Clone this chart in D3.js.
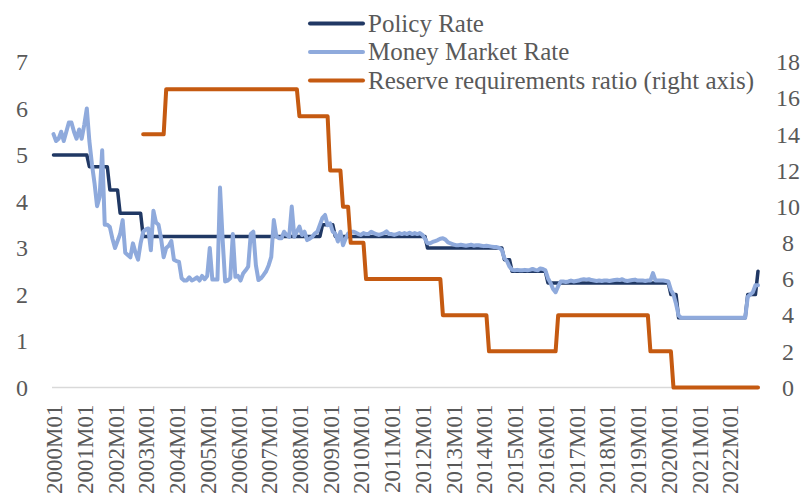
<!DOCTYPE html>
<html>
<head>
<meta charset="utf-8">
<script src="https://cdn.jsdelivr.net/npm/d3@7"></script>
<style>
  body { margin: 0; background: #fff; }
  svg { display: block; }
</style>
</head>
<body>
<svg id="chart" width="810" height="499"></svg>
<script>
// monthly categories 2000M01 .. 2022M12
const years = d3.range(2000, 2023);
const months = years.flatMap(y => d3.range(1, 13).map(m => `${y}M${String(m).padStart(2, "0")}`));

// policy rate, changes only (value holds until next change)
const policySteps = [
  ["2000M01", 5], ["2001M03", 4.75], ["2001M11", 4.25], ["2002M03", 3.75],
  ["2002M12", 3.25], ["2008M10", 3.5], ["2009M03", 3.25], ["2012M03", 3.0],
  ["2014M09", 2.75], ["2014M12", 2.5], ["2016M02", 2.25], ["2020M02", 2.0],
  ["2020M05", 1.5], ["2022M08", 2.0], ["2022M12", 2.5]
];

// reserve requirements ratio (right axis), changes only
const reserveSteps = [
  ["2002M12", 14], ["2003M09", 16.5], ["2008M01", 15], ["2009M01", 12],
  ["2009M06", 10], ["2009M09", 8], ["2010M03", 6], ["2012M09", 4],
  ["2014M03", 2], ["2016M06", 4], ["2019M06", 2], ["2020M03", 0]
];

// money market rate, one row per year
const moneyMarket = [
  5.45, 5.3, 5.35, 5.5, 5.3, 5.5, 5.7, 5.7, 5.5, 5.35, 5.55, 5.35,
  5.65, 6.0, 5.3, 4.8, 4.4, 3.9, 4.1, 5.1, 3.5, 3.5, 3.45, 3.2,
  3.0, 3.15, 3.3, 3.6, 2.9, 2.85, 2.8, 3.1, 2.9, 2.75, 3.1, 3.35,
  3.4, 3.42, 2.95, 3.8, 3.55, 3.5, 3.2, 2.8, 3.0, 3.05, 3.15, 2.75,
  2.72, 2.7, 2.35, 2.3, 2.3, 2.37, 2.3, 2.33, 2.37, 2.3, 2.4, 2.33,
  2.4, 3.0, 2.32, 2.32, 2.32, 4.3, 3.2, 2.28, 2.3, 2.35, 3.3, 2.38,
  2.4, 2.3, 2.45, 2.52, 2.6, 3.3, 3.35, 2.63, 2.31, 2.35, 2.42, 2.5,
  2.63, 2.81, 3.6, 3.25, 3.21, 3.21, 3.35, 3.28, 3.24, 3.89, 3.24, 3.35,
  3.46, 3.28, 3.35, 3.17, 3.2, 3.24, 3.31, 3.35, 3.5, 3.65, 3.71, 3.49,
  3.53, 3.35, 3.31, 3.14, 3.35, 3.06, 3.2, 3.31, 3.35, 3.35, 3.33, 3.3,
  3.28, 3.32, 3.3, 3.3, 3.35, 3.32, 3.3, 3.28, 3.3, 3.32, 3.36, 3.3,
  3.3, 3.28, 3.3, 3.32, 3.3, 3.32, 3.3, 3.33, 3.3, 3.32, 3.3, 3.32,
  3.28, 3.2, 3.1, 3.1, 3.13, 3.15, 3.17, 3.2, 3.21, 3.18, 3.12, 3.1,
  3.08, 3.06, 3.06, 3.07, 3.06, 3.05, 3.06, 3.07, 3.05, 3.06, 3.06, 3.05,
  3.04, 3.05, 3.04, 3.03, 3.02, 3.02, 3.0, 2.96, 2.78, 2.72, 2.6, 2.53,
  2.52, 2.53, 2.52, 2.52, 2.53, 2.52, 2.53, 2.55, 2.53, 2.52, 2.56, 2.55,
  2.52, 2.35, 2.25, 2.12, 2.05, 2.18, 2.28, 2.28, 2.27, 2.28, 2.3, 2.28,
  2.29, 2.3, 2.32, 2.33, 2.32, 2.33, 2.31, 2.3, 2.29, 2.3, 2.29, 2.3,
  2.3, 2.29, 2.3, 2.31, 2.32, 2.31, 2.33, 2.3, 2.29, 2.3, 2.31, 2.32,
  2.3, 2.3, 2.3, 2.29, 2.3, 2.3, 2.46, 2.3, 2.3, 2.3, 2.3, 2.29,
  2.28, 2.1, 2.0, 1.8, 1.55, 1.5, 1.5, 1.5, 1.5, 1.5, 1.5, 1.5,
  1.5, 1.5, 1.5, 1.5, 1.5, 1.5, 1.5, 1.5, 1.5, 1.5, 1.5, 1.5,
  1.5, 1.5, 1.5, 1.5, 1.5, 1.5, 1.5, 1.95, 2.0, 2.05, 2.2, 2.2
];

const leftTicks = d3.range(0, 8);
const rightTicks = d3.range(0, 19, 2);

const seriesNames = ["Policy Rate", "Money Market Rate", "Reserve requirements ratio (right axis)"];
const seriesColors = ["#203864", "#8faadc", "#c55a11"];

// carry each step value forward month by month
function expandSteps(steps) {
  const byMonth = new Map(steps);
  let current = null;
  return months.map(m => {
    if (byMonth.has(m)) current = byMonth.get(m);
    return current;
  });
}

const policy = expandSteps(policySteps);
const reserve = expandSteps(reserveSteps);

const svg = d3.select("#chart");
const font = "'Liberation Serif', 'DejaVu Serif', serif";
const textColor = "#595959";

const x = d3.scalePoint().domain(months).range([53.5, 758]);
const yL = d3.scaleLinear().domain([0, 7]).range([387.5, 62]);
const yR = d3.scaleLinear().domain([0, 18]).range([387.5, 62]);

// zero gridline
svg.append("line")
  .attr("x1", 52)
  .attr("x2", 760)
  .attr("y1", yL(0))
  .attr("y2", yL(0))
  .attr("stroke", "#d9d9d9")
  .attr("stroke-width", 1.5);

// left axis
svg.append("g")
  .attr("transform", "translate(52,0)")
  .call(d3.axisLeft(yL).tickValues(leftTicks).tickSize(0).tickFormat(d3.format("d")))
  .call(g => g.select(".domain").remove())
  .selectAll("text")
  .attr("x", -30)
  .attr("text-anchor", "middle")
  .attr("font-family", font)
  .attr("font-size", "24px")
  .attr("fill", textColor);

// right axis
svg.append("g")
  .attr("transform", "translate(760,0)")
  .call(d3.axisRight(yR).tickValues(rightTicks).tickSize(0).tickFormat(d3.format("d")))
  .call(g => g.select(".domain").remove())
  .selectAll("text")
  .attr("x", 28)
  .attr("text-anchor", "middle")
  .attr("font-family", font)
  .attr("font-size", "24px")
  .attr("fill", textColor);

// bottom axis, one label per january
svg.append("g")
  .attr("transform", `translate(0,${yL(0)})`)
  .call(d3.axisBottom(x).tickValues(months.filter(m => m.endsWith("M01"))).tickSize(0))
  .call(g => g.select(".domain").remove())
  .selectAll("text")
  .attr("x", 0)
  .attr("y", 0)
  .attr("dy", "0.35em")
  .attr("transform", "translate(0,17) rotate(-90)")
  .attr("text-anchor", "end")
  .attr("font-family", font)
  .attr("font-size", "23px")
  .attr("fill", textColor);

// lines
const lineL = d3.line()
  .defined(d => d[1] != null)
  .x(d => x(d[0]))
  .y(d => yL(d[1]));

const lineR = d3.line()
  .defined(d => d[1] != null)
  .x(d => x(d[0]))
  .y(d => yR(d[1]));

const plotted = [
  { values: policy, line: lineL, width: 3.5 },
  { values: moneyMarket, line: lineL, width: 4 },
  { values: reserve, line: lineR, width: 4 }
];

plotted.forEach((s, i) => {
  svg.append("path")
    .datum(months.map((m, j) => [m, s.values[j]]))
    .attr("d", s.line)
    .attr("fill", "none")
    .attr("stroke", seriesColors[i])
    .attr("stroke-width", s.width)
    .attr("stroke-linejoin", "round")
    .attr("stroke-linecap", "round");
});

// legend
const legend = svg.append("g")
  .selectAll("g")
  .data(seriesNames)
  .enter().append("g")
  .attr("transform", (d, i) => `translate(310,${23.5 + i * 28.5})`);

legend.append("line")
  .attr("x1", 0)
  .attr("x2", 53)
  .attr("stroke", (d, i) => seriesColors[i])
  .attr("stroke-width", 4)
  .attr("stroke-linecap", "round");

legend.append("text")
  .attr("x", 58)
  .attr("y", 8)
  .attr("font-family", font)
  .attr("font-size", "25px")
  .attr("fill", textColor)
  .text(d => d);
</script>
</body>
</html>
